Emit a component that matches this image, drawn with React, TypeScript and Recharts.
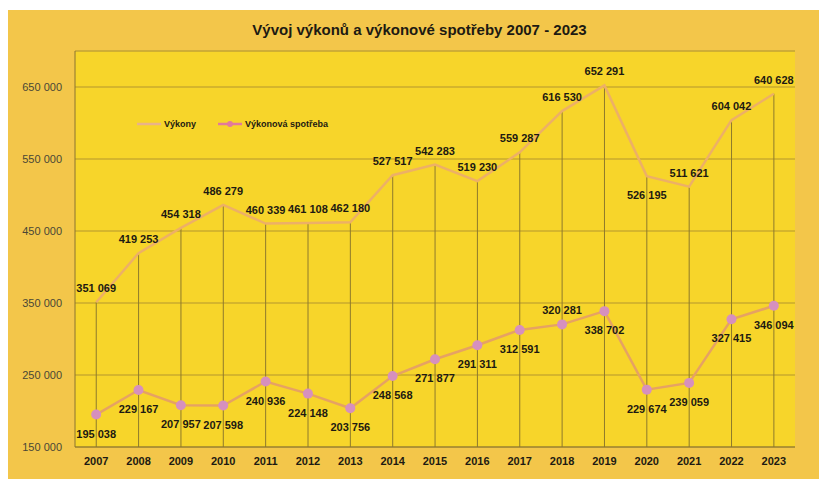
import React from 'react';
import {
  ComposedChart,
  Line,
  Bar,
  XAxis,
  YAxis,
  CartesianGrid,
  Legend,
  LabelList,
  ReferenceLine,
} from 'recharts';

const title = 'Vývoj výkonů a výkonové spotřeby 2007 - 2023';
const years = ['2007', '2008', '2009', '2010', '2011', '2012', '2013', '2014', '2015', '2016', '2017', '2018', '2019', '2020', '2021', '2022', '2023'];
const vykony = [351069, 419253, 454318, 486279, 460339, 461108, 462180, 527517, 542283, 519230, 559287, 616530, 652291, 526195, 511621, 604042, 640628];
const spotreba = [195038, 229167, 207957, 207598, 240936, 224148, 203756, 248568, 271877, 291311, 312591, 320281, 338702, 229674, 239059, 327415, 346094];
const yTicks = [150000, 250000, 350000, 450000, 550000, 650000];
const seriesNames = ['Výkony', 'Výkonová spotřeba'];

const data = years.map((year, i) => ({ year, vykony: vykony[i], spotreba: spotreba[i] }));

const FONT = '"Liberation Sans", Arial, sans-serif';
const OUTER_BG = '#F3C64A';
const PLOT_BG = '#F7D52A';
const GRID = '#B3952F';
const DROP = '#8E7A2C';
const VYK_COLOR = '#EDB066';
const SPOT_COLOR = '#E6A263';
const DOT_COLOR = '#D690BE';

const fmt = (v: number) => String(v).replace(/\B(?=(\d{3})+(?!\d))/g, ' ');

// thin vertical line from the Výkony point down to the axis
const DropLine = (props: any) => {
  const { x, y, width, height } = props;
  const cx = x + width / 2;
  return <line x1={cx} x2={cx} y1={y} y2={y + height} stroke={DROP} strokeWidth={1} />;
};

const makeLabel = (flip: number[], above: boolean) => (props: any) => {
  const { x, y, value, index } = props;
  const up = flip.includes(index) ? !above : above;
  const dy = up ? -14 : 19;
  return (
    <text
      x={x}
      y={y + dy}
      textAnchor="middle"
      dominantBaseline="central"
      fontFamily={FONT}
      fontSize={11}
      fontWeight="bold"
      fill="#1d1a12"
    >
      {fmt(value)}
    </text>
  );
};

const renderLegend = (props: any) => {
  const items = (props.payload || [])
    .filter((p: any) => p.type !== 'none' && seriesNames.includes(p.value))
    .sort((a: any, b: any) => seriesNames.indexOf(a.value) - seriesNames.indexOf(b.value));
  return (
    <div style={{ display: 'flex', alignItems: 'center', fontFamily: FONT, fontSize: 9, fontWeight: 'bold', color: '#1d1a12' }}>
      {items.map((p: any) => {
        const withDot = p.dataKey === 'spotreba';
        const c = withDot ? '#E27A9C' : '#E9B38A';
        return (
          <div key={p.value} style={{ display: 'flex', alignItems: 'center', marginRight: 22 }}>
            <svg width={24} height={10} style={{ marginRight: 3 }}>
              <line x1={0} x2={24} y1={5} y2={5} stroke={c} strokeWidth={2.5} />
              {withDot && <circle cx={12} cy={5} r={3} fill={c} />}
            </svg>
            <span>{p.value}</span>
          </div>
        );
      })}
    </div>
  );
};

export default function App() {
  return (
    <div
      style={{
        position: 'absolute',
        left: 8,
        top: 10,
        width: 811,
        height: 469,
        background: OUTER_BG,
      }}
    >
      <div
        style={{
          position: 'absolute',
          top: 11,
          left: 0,
          width: 811,
          paddingLeft: 12,
          boxSizing: 'border-box',
          textAlign: 'center',
          fontFamily: FONT,
          fontWeight: 'bold',
          fontSize: 15,
          color: '#1d1a12',
        }}
      >
        {title}
      </div>
      <ComposedChart
        width={811}
        height={469}
        data={data}
        margin={{ top: 41, right: 24, bottom: 7, left: 7 }}
      >
        <CartesianGrid fill={PLOT_BG} vertical={false} stroke={GRID} strokeWidth={1} />
        <XAxis
          dataKey="year"
          axisLine={{ stroke: '#8A7530' }}
          tickLine={false}
          tickSize={0}
          tickMargin={10}
          height={25}
          tick={{ fontFamily: FONT, fontSize: 11, fontWeight: 'bold', fill: '#1d1a12' }}
        />
        <YAxis
          domain={[150000, 700000]}
          ticks={yTicks}
          allowDataOverflow
          width={60}
          axisLine={{ stroke: '#8A7530' }}
          tickLine={false}
          tickSize={0}
          tickMargin={13}
          tickFormatter={fmt}
          tick={{ fontFamily: FONT, fontSize: 11, fill: '#4a4636' }}
        />
        <YAxis yAxisId="edge" orientation="right" width={0} domain={[0, 1]} tick={false} tickLine={false} axisLine={{ stroke: '#A08A36' }} />
        <ReferenceLine y={700000} stroke="#C9AA38" strokeWidth={1} />
        <Legend
          layout="horizontal"
          verticalAlign="middle"
          align="center"
          wrapperStyle={{ top: 109, left: 129, width: 'auto' }}
          content={renderLegend}
        />
        <Bar
          dataKey="vykony"
          shape={DropLine}
          legendType="none"
          isAnimationActive={false}
        />
        <Line
          type="linear"
          dataKey="vykony"
          name={seriesNames[0]}
          stroke={VYK_COLOR}
          strokeWidth={2.5}
          dot={false}
          isAnimationActive={false}
        >
          <LabelList dataKey="vykony" content={makeLabel([13], true)} />
        </Line>
        <Line
          type="linear"
          dataKey="spotreba"
          name={seriesNames[1]}
          stroke={SPOT_COLOR}
          strokeWidth={2.5}
          dot={{ r: 5, fill: DOT_COLOR, stroke: DOT_COLOR, strokeWidth: 0 }}
          isAnimationActive={false}
        >
          <LabelList dataKey="spotreba" content={makeLabel([11], false)} />
        </Line>
      </ComposedChart>
    </div>
  );
}
